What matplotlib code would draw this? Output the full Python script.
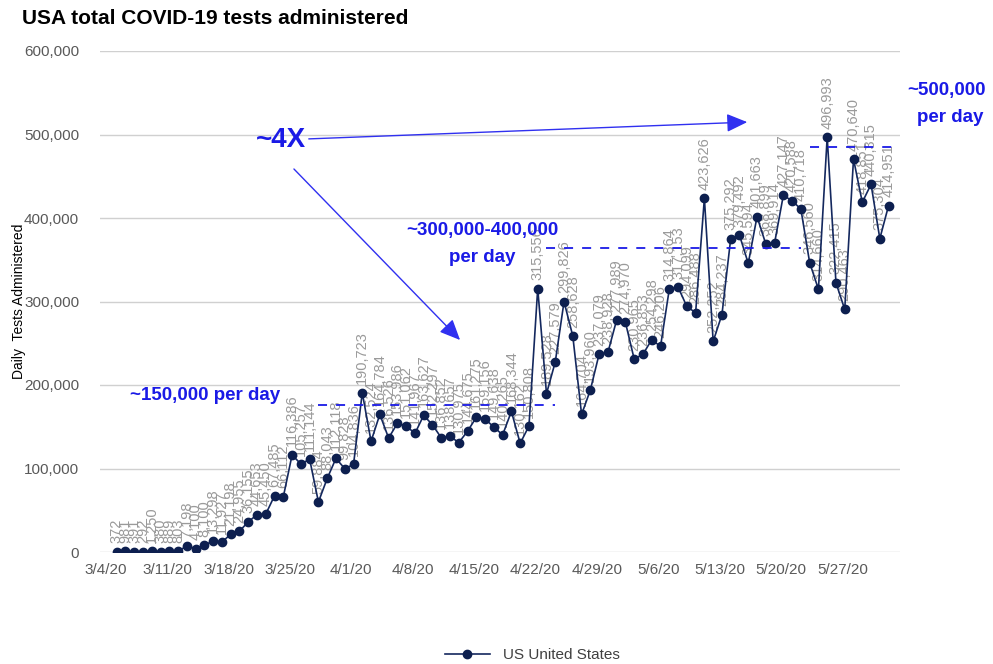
import numpy as np
import pandas as pd
import matplotlib
matplotlib.use("Agg")
import matplotlib.pyplot as plt
import matplotlib.dates as mdates
import matplotlib.ticker as mticker
from matplotlib.patches import FancyArrowPatch
from matplotlib.transforms import ScaledTranslation

plt.rcParams["font.family"] = ["Liberation Sans Narrow", "Liberation Sans", "DejaVu Sans"]

# daily tests, 3/4/20 .. 5/31/20
dates = pd.date_range("2020-03-04", "2020-05-31", freq="D")
tests = [
    372, 981, 391, 292, 1250, 380, 889, 803, 7198, 4100,
    8100, 13298, 11927, 21198, 24955, 36155, 44653, 45450, 67485, 66112,
    116386, 105257, 111144, 59884, 88043, 112118, 99828, 104836, 190723, 132524,
    164784, 136526, 153986, 151062, 141967, 163627, 152297, 136852, 138657, 130975,
    144675, 161275, 159156, 149638, 140265, 168344, 130162, 150808, 315556, 189528,
    227579, 299826, 258628, 164704, 193960, 237079, 238928, 277989, 274970, 230965,
    236853, 254298, 246206, 314864, 317153, 294099, 286488, 423626, 252252, 284237,
    375292, 379492, 345594, 401663, 368899, 369914, 427147, 420588, 410718, 346560,
    314660, 496993, 322415, 290463, 470640, 418851, 440315, 375304, 414951,
]
tick_dates = pd.date_range("2020-03-04", "2020-05-27", freq="7D")
y_ticks = [0, 100000, 200000, 300000, 400000, 500000, 600000]

NAVY = "#14285e"
BLUE = "#1a1ae6"
GREY_TXT = "#595959"

W, H = 993, 664
fig = plt.figure(figsize=(W / 100, H / 100), dpi=100)
ax = fig.add_axes([100 / W, (H - 552) / H, 800 / W, 501 / H])

ax.plot(dates, tests, color=NAVY, lw=1.2, marker="o", ms=6,
        mfc="#0d1f4f", mec="#0d1f4f", zorder=3, label="US United States")

for d, v in zip(dates, tests):
    ax.annotate(f"{v:,}", (d, v), xytext=(0, 6), textcoords="offset points",
                rotation=90, ha="center", va="bottom", fontsize=10.5,
                color="#9a9a9a", zorder=2)

ax.set_ylim(0, 600000)
ax.set_yticks(y_ticks)
ax.yaxis.set_major_formatter(mticker.FuncFormatter(lambda v, p: f"{int(v):,}"))
ax.set_xlim(dates[0] - pd.Timedelta(days=1.9), dates[-1] + pd.Timedelta(days=1.3))
ax.set_xticks(tick_dates)
ax.xaxis.set_major_formatter(mdates.DateFormatter("%-m/%-d/%y"))
ax.grid(axis="y", color="#d0d0d0", lw=1)
ax.set_axisbelow(True)
for s in ax.spines.values():
    s.set_visible(False)
ax.tick_params(length=0, labelsize=11, colors=GREY_TXT, pad=8)
ax.tick_params(axis="y", pad=15)
off = ScaledTranslation(-11 / 100, 0, fig.dpi_scale_trans)
for lbl in ax.get_xticklabels():
    lbl.set_transform(lbl.get_transform() + off)
ax.set_ylabel("Daily  Tests Administered", fontsize=10, color="black")
ax.yaxis.set_label_coords(-0.092, 0.5)

# dashed reference levels
ax.hlines(176000, pd.Timestamp("2020-03-27"), pd.Timestamp("2020-04-23"),
          colors=BLUE, linestyles=(0, (5, 5)), lw=1.3, zorder=4)
ax.hlines(364000, pd.Timestamp("2020-04-22"), pd.Timestamp("2020-05-21"),
          colors=BLUE, linestyles=(0, (5, 5)), lw=1.3, zorder=4)
ax.hlines(485000, pd.Timestamp("2020-05-22"), dates[-1] + pd.Timedelta(days=1.3),
          colors=BLUE, linestyles=(0, (5, 5)), lw=1.3, zorder=4, clip_on=False)


def fpx(x, y):
    return x / W, 1 - y / H


fig.text(*fpx(22, 18), "USA total COVID-19 tests administered", fontsize=15,
         fontweight="bold", va="center", ha="left", color="black")
fig.text(*fpx(130, 395), "~150,000 per day", fontsize=13.5, fontweight="bold",
         color=BLUE, va="center", ha="left")
fig.text(*fpx(482, 230), "~300,000-400,000", fontsize=13.5, fontweight="bold",
         color=BLUE, va="center", ha="center")
fig.text(*fpx(482, 258), "per day", fontsize=13.5, fontweight="bold",
         color=BLUE, va="center", ha="center")
fig.text(*fpx(946, 90), "~500,000", fontsize=13.5, fontweight="bold",
         color=BLUE, va="center", ha="center")
fig.text(*fpx(950, 118), "per day", fontsize=13.5, fontweight="bold",
         color=BLUE, va="center", ha="center")
fig.text(*fpx(281, 140), "~4X", fontsize=20, fontweight="bold",
         color=BLUE, va="center", ha="center")

arrow_style = "-|>,head_length=0.9,head_width=0.4"
for start, end in [((306, 139), (750, 122)), ((292, 167), (462, 342))]:
    fig.add_artist(FancyArrowPatch(fpx(*start), fpx(*end), transform=fig.transFigure,
                                   arrowstyle=arrow_style, mutation_scale=14,
                                   color="#3030f0", lw=1))

fig.legend(loc="center", bbox_to_anchor=fpx(532, 655), frameon=False,
           fontsize=11, labelcolor="#404040", handlelength=3)

fig.savefig("out.png", dpi=100)
